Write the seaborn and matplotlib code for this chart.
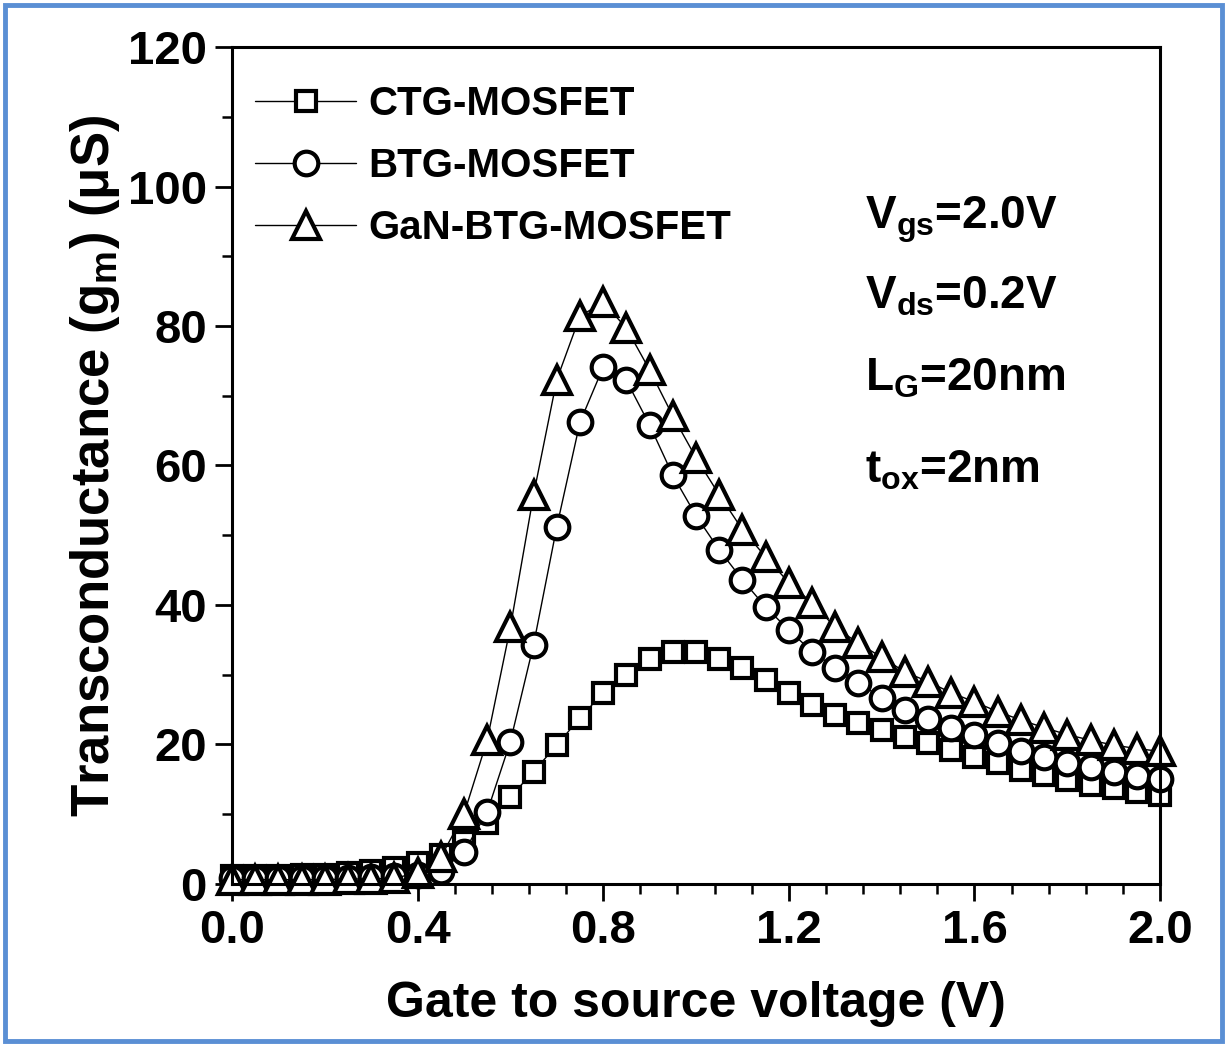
import matplotlib
matplotlib.use("Agg")
import matplotlib.pyplot as plt
import matplotlib.patches as mpatches
from matplotlib.ticker import MultipleLocator
from matplotlib.lines import Line2D
import seaborn as sns
import pandas as pd

# Gate-source voltage sweep (V)
vgs = [0.00, 0.05, 0.10, 0.15, 0.20, 0.25, 0.30, 0.35, 0.40, 0.45,
       0.50, 0.55, 0.60, 0.65, 0.70, 0.75, 0.80, 0.85, 0.90, 0.95,
       1.00, 1.05, 1.10, 1.15, 1.20, 1.25, 1.30, 1.35, 1.40, 1.45,
       1.50, 1.55, 1.60, 1.65, 1.70, 1.75, 1.80, 1.85, 1.90, 1.95, 2.00]

# Transconductance (uS) for each device
gm_ctg = [1.2, 1.2, 1.2, 1.3, 1.3, 1.5, 1.8, 2.3, 3.0, 4.2,
          6.0, 8.8, 12.5, 16.1, 19.9, 23.8, 27.4, 30.0, 32.2, 33.3,
          33.3, 32.3, 31.0, 29.2, 27.4, 25.7, 24.2, 23.1, 22.1, 21.1,
          20.2, 19.2, 18.2, 17.3, 16.3, 15.6, 14.9, 14.2, 13.8, 13.2, 12.8]
gm_btg = [0.8, 0.8, 0.8, 0.8, 0.8, 0.9, 1.0, 1.1, 1.3, 1.8,
          4.6, 10.3, 20.4, 34.3, 51.2, 66.2, 74.1, 72.2, 65.8, 58.6,
          52.8, 47.9, 43.6, 39.7, 36.4, 33.3, 31.0, 28.8, 26.7, 24.9,
          23.6, 22.4, 21.3, 20.2, 19.1, 18.2, 17.3, 16.7, 16.0, 15.4, 15.0]
gm_gan = [0.6, 0.6, 0.6, 0.6, 0.6, 0.7, 0.7, 0.8, 1.6, 3.8,
          10.0, 20.6, 36.8, 55.8, 72.3, 81.4, 83.4, 79.7, 73.7, 67.1,
          61.1, 55.8, 50.8, 46.9, 43.2, 40.3, 36.8, 34.5, 32.5, 30.4,
          29.0, 27.4, 26.1, 24.7, 23.5, 22.4, 21.4, 20.6, 19.9, 19.4, 19.0]

labels = ["CTG-MOSFET", "BTG-MOSFET", "GaN-BTG-MOSFET"]
markers = ["s", "o", "^"]
msizes = [15, 17, 20]
mew = 3.0

sns.set_style("ticks")
plt.rcParams["font.family"] = ["Liberation Sans", "DejaVu Sans"]
plt.rcParams["font.weight"] = "bold"
plt.rcParams["text.color"] = "black"
plt.rcParams["axes.labelcolor"] = "black"
plt.rcParams["xtick.color"] = "black"
plt.rcParams["ytick.color"] = "black"
plt.rcParams["mathtext.fontset"] = "custom"
plt.rcParams["mathtext.rm"] = "Liberation Sans:bold"
plt.rcParams["mathtext.it"] = "Liberation Sans:bold"
plt.rcParams["mathtext.bf"] = "Liberation Sans:bold"

fig = plt.figure(figsize=(12.27, 10.46), dpi=100)
ax = fig.add_axes([0.189, 0.155, 0.7565, 0.800])

series = [gm_ctg, gm_btg, gm_gan]
handles = []
for vals, lab, mk, ms in zip(series, labels, markers, msizes):
    df = pd.DataFrame({"Vgs": vgs, "gm": vals})
    sns.lineplot(data=df, x="Vgs", y="gm", ax=ax, color="black", lw=1.0,
                 marker=mk, markersize=ms, markerfacecolor="white",
                 markeredgecolor="black", markeredgewidth=mew, clip_on=False)
    handles.append(Line2D([], [], color="black", lw=1.0, marker=mk,
                          markersize=ms, markerfacecolor="white",
                          markeredgecolor="black", markeredgewidth=mew))

ax.set_xlim(0, 2.0)
ax.set_ylim(0, 120)
ax.xaxis.set_major_locator(MultipleLocator(0.4))
ax.xaxis.set_minor_locator(MultipleLocator(0.08))
ax.yaxis.set_major_locator(MultipleLocator(20))
ax.yaxis.set_minor_locator(MultipleLocator(10))
ax.set_xticks([0.0, 0.4, 0.8, 1.2, 1.6, 2.0])
ax.set_xticklabels(["0.0", "0.4", "0.8", "1.2", "1.6", "2.0"])

for sp in ax.spines.values():
    sp.set_linewidth(2.2)
    sp.set_color("black")
ax.tick_params(which="major", direction="out", length=12, width=2.0,
               pad=6, top=False, right=False, colors="black")
ax.tick_params(which="minor", direction="out", length=7, width=1.8,
               top=False, right=False, colors="black")
for lab in ax.get_xticklabels() + ax.get_yticklabels():
    lab.set_fontweight("bold")
    lab.set_fontsize(34)
    lab.set_color("black")

ax.set_xlabel("Gate to source voltage (V)", fontsize=36, fontweight="bold",
              labelpad=20, color="black")
ax.set_ylabel(r"Transconductance (g$_m$) ($\mu$S)", fontsize=38,
              fontweight="bold", labelpad=4, color="black")

leg = ax.legend(handles, labels, loc="upper left", frameon=False,
                bbox_to_anchor=(-0.014, 0.998), handlelength=2.5,
                handletextpad=0.3, labelspacing=0.6,
                prop={"family": "Liberation Sans", "weight": "bold", "size": 29})
for t in leg.get_texts():
    t.set_color("black")

notes = [(94.0, r"V$_{gs}$=2.0V"), (82.5, r"V$_{ds}$=0.2V"),
         (70.8, r"L$_{G}$=20nm"), (57.5, r"t$_{ox}$=2nm")]
for yv, txt in notes:
    ax.text(0.682, yv, txt, transform=ax.get_yaxis_transform(),
            fontsize=33, fontweight="bold", va="baseline", ha="left",
            color="black")

# outer blue frame
fig.patches.append(mpatches.Rectangle((0.004, 0.005), 0.992, 0.99,
                                      transform=fig.transFigure, fill=False,
                                      edgecolor="#5a8fd4", linewidth=3.5))

fig.savefig("out.png", dpi=100, facecolor="white")
